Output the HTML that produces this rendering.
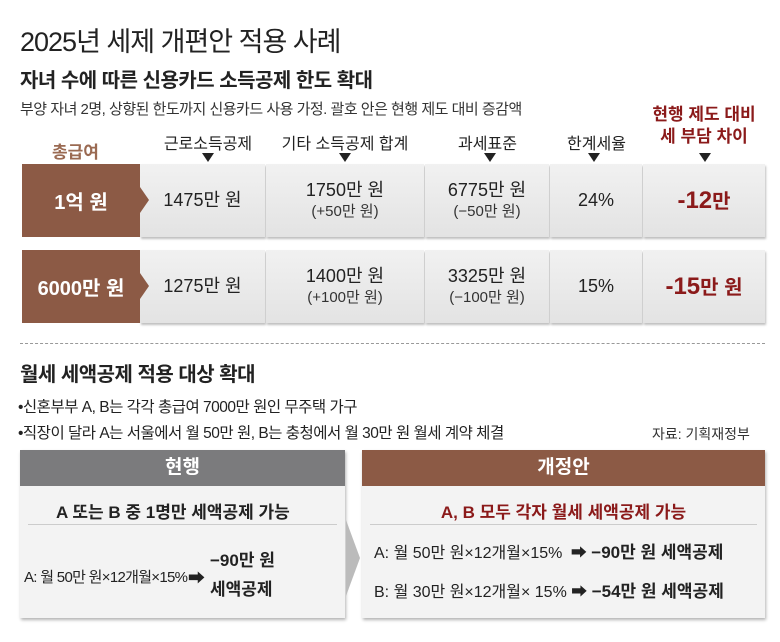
<!DOCTYPE html>
<html><head><meta charset="utf-8"><style>
*{margin:0;padding:0;box-sizing:border-box}
body{width:780px;height:642px;background:#fff;font-family:"Liberation Sans","Noto Sans CJK KR",sans-serif;color:#222;position:relative;overflow:hidden}
.a{position:absolute;white-space:nowrap}
.c{text-align:center}
.cell{position:absolute;background:linear-gradient(#f1f1f1,#e3e3e3);box-shadow:1px 2px 2px rgba(0,0,0,.25);display:flex;flex-direction:column;align-items:center;justify-content:center;font-size:18px;color:#222;line-height:1.3}
.cell small{font-size:15px;color:#333}
.br{position:absolute;background:#8c5a45;color:#fff;font-size:20px;font-weight:bold;display:flex;align-items:center;justify-content:center}
.tri{position:absolute;width:0;height:0;border-left:6px solid transparent;border-right:6px solid transparent;border-top:9px solid #222}
.red{color:#8b1a1a;font-weight:bold}
.box{position:absolute;background:#f3f3f3;box-shadow:1px 2px 3px rgba(0,0,0,.3)}
.hd{position:absolute;left:0;right:0;top:0;height:36px;color:#fff;font-size:19px;font-weight:bold;text-align:center;line-height:36px}
</style></head><body>
<div class="a" style="left:20px;top:20px;font-size:27px;letter-spacing:-1px">2025년 세제 개편안 적용 사례</div>
<div class="a" style="left:20px;top:64px;font-size:20px;font-weight:bold;letter-spacing:-.5px">자녀 수에 따른 신용카드 소득공제 한도 확대</div>
<div class="a" style="left:20px;top:98px;font-size:15px;color:#333;letter-spacing:-.5px">부양 자녀 2명, 상향된 한도까지 신용카드 사용 가정. 괄호 안은 현행 제도 대비 증감액</div>

<div class="a" style="left:52px;top:138px;font-size:17px;color:#9a6a52;font-weight:bold">총급여</div>
<div class="a c" style="left:148px;width:120px;top:130px;font-size:16px">근로소득공제</div>
<div class="a c" style="left:265px;width:160px;top:130px;font-size:16px">기타 소득공제 합계</div>
<div class="a c" style="left:425px;width:125px;top:130px;font-size:16px">과세표준</div>
<div class="a c" style="left:550px;width:93px;top:130px;font-size:16px">한계세율</div>
<div class="a c red" style="left:643px;width:122px;top:104px;font-size:17px;line-height:22px">현행 제도 대비<br>세 부담 차이</div>
<div class="tri" style="left:202px;top:153px"></div>
<div class="tri" style="left:339px;top:153px"></div>
<div class="tri" style="left:484px;top:153px"></div>
<div class="tri" style="left:588px;top:153px"></div>
<div class="tri" style="left:699px;top:153px"></div>

<!-- row1 -->
<div class="cell" style="left:140px;top:164px;width:125px;height:73px">1475만 원</div>
<div class="cell" style="left:266px;top:164px;width:158px;height:73px">1750만 원<small>(+50만 원)</small></div>
<div class="cell" style="left:425px;top:164px;width:124px;height:73px">6775만 원<small>(−50만 원)</small></div>
<div class="cell" style="left:550px;top:164px;width:92px;height:73px">24%</div>
<div class="cell" style="left:643px;top:164px;width:122px;height:73px"><span class="red" style="font-size:24px">-12<span style="font-size:20px">만</span></span></div>
<div class="br" style="left:22px;top:164px;width:118px;height:73px">1억 원</div>
<div class="a" style="left:140px;top:187px;border-top:13px solid transparent;border-bottom:13px solid transparent;border-left:9px solid #8c5a45"></div>
<!-- row2 -->
<div class="cell" style="left:140px;top:250px;width:125px;height:73px">1275만 원</div>
<div class="cell" style="left:266px;top:250px;width:158px;height:73px">1400만 원<small>(+100만 원)</small></div>
<div class="cell" style="left:425px;top:250px;width:124px;height:73px">3325만 원<small>(−100만 원)</small></div>
<div class="cell" style="left:550px;top:250px;width:92px;height:73px">15%</div>
<div class="cell" style="left:643px;top:250px;width:122px;height:73px"><span class="red" style="font-size:24px">-15<span style="font-size:20px">만 원</span></span></div>
<div class="br" style="left:22px;top:250px;width:118px;height:73px">6000만 원</div>
<div class="a" style="left:140px;top:273px;border-top:13px solid transparent;border-bottom:13px solid transparent;border-left:9px solid #8c5a45"></div>

<div class="a" style="left:20px;top:343px;width:745px;border-top:1px dashed #999"></div>

<div class="a" style="left:20px;top:358px;font-size:20px;font-weight:bold;letter-spacing:-.5px">월세 세액공제 적용 대상 확대</div>
<div class="a" style="left:18px;top:395px;font-size:15.5px;letter-spacing:-.5px">•신혼부부 A, B는 각각 총급여 7000만 원인 무주택 가구</div>
<div class="a" style="left:18px;top:421px;font-size:15.5px;letter-spacing:-.5px">•직장이 달라 A는 서울에서 월 50만 원, B는 충청에서 월 30만 원 월세 계약 체결</div>
<div class="a" style="left:652px;top:424px;font-size:14px;color:#333">자료: 기획재정부</div>

<div class="box" style="left:20px;top:450px;width:325px;height:168px">
 <div class="hd" style="background:#7b7b7d">현행</div>
 <div class="a" style="left:36px;top:48px;font-size:17px;font-weight:bold">A 또는 B 중 1명만 세액공제 가능</div>
 <div class="a" style="left:8px;right:8px;top:74px;border-top:1px solid #ccc"></div>
 <div class="a" style="left:4px;top:116px;font-size:15px;letter-spacing:-.7px">A: 월 50만 원×12개월×15%</div>
 <div class="a" style="left:168px;top:114px;font-size:17px">➡</div>
 <div class="a" style="left:190px;top:96px;font-size:17px;font-weight:bold;line-height:29px">−90만 원<br>세액공제</div>
</div>
<div class="a" style="left:346px;top:520px;border-top:38px solid transparent;border-bottom:38px solid transparent;border-left:14px solid #bbb"></div>
<div class="box" style="left:362px;top:450px;width:403px;height:168px">
 <div class="hd" style="background:#8c5a45">개정안</div>
 <div class="a c red" style="left:0;right:0;top:48px;font-size:17px">A, B 모두 각자 월세 세액공제 가능</div>
 <div class="a" style="left:8px;right:8px;top:74px;border-top:1px solid #ccc"></div>
 <div class="a" style="left:12px;top:88px;font-size:16px">A: 월 50만 원×12개월×15% <span style="margin-left:4px">➡</span> <b style="font-size:17px">−90만 원 세액공제</b></div>
 <div class="a" style="left:12px;top:127px;font-size:16px">B: 월 30만 원×12개월× 15% <span>➡</span> <b style="font-size:17px">−54만 원 세액공제</b></div>
</div>
</body></html>
